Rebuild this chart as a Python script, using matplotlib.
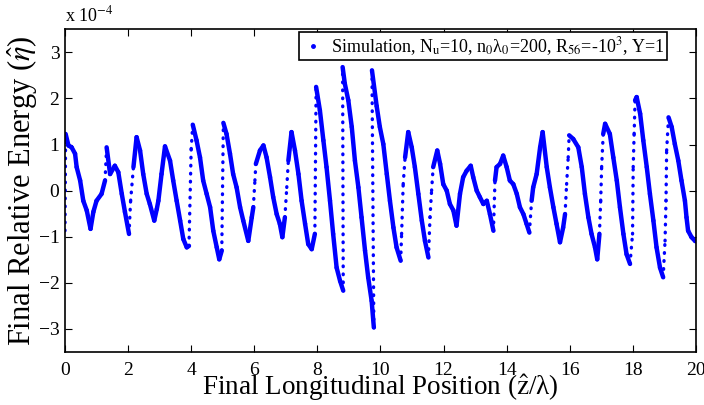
import matplotlib
matplotlib.use('Agg')
import matplotlib.pyplot as plt
from matplotlib.lines import Line2D
import numpy as np

plt.rcParams.update({
    'font.family': ['Liberation Serif', 'DejaVu Serif'],
    'mathtext.fontset': 'stix',
    'axes.linewidth': 1.2,
    'xtick.direction': 'in', 'ytick.direction': 'in',
    'xtick.top': True, 'ytick.right': True,
    'xtick.major.size': 5, 'ytick.major.size': 5,
    'xtick.major.pad': 7, 'ytick.major.pad': 4,
    'xtick.labelsize': 14, 'ytick.labelsize': 14,
})

# particle phase-space trace (energy in units of 1e-4)
z_pos = [0.00, 0.02, 0.11, 0.21, 0.32, 0.37, 0.48, 0.58, 0.69, 0.81, 0.90, 1.00, 1.16, 1.27, 1.32,
         1.43, 1.58, 1.69, 1.80, 1.90, 2.03, 2.08, 2.17, 2.27, 2.38, 2.48, 2.59, 2.69, 2.83, 2.91,
         2.96, 3.06, 3.17, 3.33, 3.43, 3.54, 3.65, 3.75, 3.86, 3.93, 4.00, 4.05, 4.17, 4.28, 4.38,
         4.49, 4.60, 4.70, 4.81, 4.89, 4.97, 5.02, 5.12, 5.23, 5.33, 5.44, 5.55, 5.65, 5.81, 5.92,
         5.97, 6.02, 6.05, 6.18, 6.29, 6.39, 6.50, 6.60, 6.71, 6.81, 6.89, 6.97, 7.03, 7.08, 7.18,
         7.29, 7.40, 7.50, 7.61, 7.71, 7.82, 7.92, 7.96, 8.08, 8.19, 8.29, 8.40, 8.50, 8.61, 8.72,
         8.82, 8.80, 8.87, 8.98, 9.09, 9.19, 9.30, 9.40, 9.51, 9.61, 9.72, 9.79, 9.73, 9.88, 9.98,
         10.09, 10.20, 10.30, 10.41, 10.51, 10.64, 10.67, 10.72, 10.78, 10.88, 10.99, 11.09, 11.20,
         11.31, 11.41, 11.52, 11.57, 11.62, 11.67, 11.80, 11.89, 11.99, 12.10, 12.20, 12.31, 12.41,
         12.52, 12.62, 12.73, 12.86, 12.94, 13.05, 13.15, 13.26, 13.37, 13.47, 13.58, 13.63, 13.68,
         13.79, 13.89, 14.00, 14.10, 14.21, 14.32, 14.42, 14.53, 14.63, 14.72, 14.79, 14.84, 14.95,
         15.06, 15.14, 15.27, 15.37, 15.48, 15.58, 15.69, 15.79, 15.85, 15.90, 15.95, 15.98, 16.11,
         16.27, 16.38, 16.48, 16.59, 16.69, 16.80, 16.87, 16.94, 16.98, 17.01, 17.06, 17.12, 17.27,
         17.38, 17.49, 17.59, 17.70, 17.80, 17.91, 17.99, 18.01, 18.04, 18.07, 18.12, 18.23, 18.33,
         18.44, 18.54, 18.65, 18.75, 18.86, 18.96, 19.02, 19.05, 19.07, 19.13, 19.23, 19.33, 19.44,
         19.54, 19.65, 19.70, 19.75, 19.86, 19.97, 20.00]
energy = [-0.87, 1.23, 0.98, 0.94, 0.80, 0.51, 0.22, -0.22, -0.43, -0.83, -0.46, -0.22, -0.07, 0.22, 0.94,
          0.36, 0.54, 0.40, -0.07, -0.46, -0.94, -0.22, 0.51, 1.16, 0.87, 0.36, -0.07, -0.29, -0.65, -0.40,
          -0.22, 0.36, 0.96, 0.65, 0.22, -0.22, -0.65, -1.05, -1.23, -1.20, 0.90, 1.43, 1.09, 0.72, 0.22,
          -0.07, -0.36, -0.87, -1.23, -1.49, -1.30, 1.47, 1.23, 0.80, 0.36, 0.07, -0.36, -0.65, -1.09, -0.58,
          -0.36, 0.22, 0.58, 0.87, 0.98, 0.72, 0.29, -0.14, -0.51, -0.72, -1.01, -0.58, 0.07, 0.65, 1.27,
          0.87, 0.36, -0.22, -0.72, -1.16, -1.27, -0.94, 2.25, 1.74, 1.09, 0.51, -0.22, -0.94, -1.67, -1.96,
          -2.17, 2.68, 2.32, 1.96, 1.38, 0.65, 0.07, -0.58, -1.30, -1.88, -2.39, -2.97, 2.61, 1.83, 1.38,
          1.01, 0.36, -0.22, -0.80, -1.23, -1.52, -0.94, 0.14, 0.72, 1.27, 0.94, 0.51, -0.07,
          -0.65, -1.09, -1.45, -0.58, 0.00, 0.51, 0.87, 0.58, 0.14, 0.00, -0.29, -0.43, -0.76,
          -0.07, 0.29, 0.43, 0.54, 0.29, 0.00, -0.14, -0.29, -0.22, -0.51, -0.87, 0.22, 0.51,
          0.58, 0.76, 0.51, 0.22, 0.14, -0.07, -0.36, -0.51, -0.72, -0.91, -0.22, 0.07, 0.36,
          0.94, 1.27, 0.51, 0.07, -0.36, -0.72, -1.12, -0.80, -0.51, 0.14, 0.72, 1.20, 1.12,
          0.94, 0.51, -0.07, -0.58, -0.94, -1.23, -1.49, -0.94, -0.22, 0.51, 1.23, 1.45, 1.23,
          0.72, 0.22, -0.36, -0.94, -1.38, -1.59, -0.94, 0.51, 1.23, 1.96, 2.03, 1.67, 1.09,
          0.51, -0.07, -0.65, -1.23, -1.67, -1.88, -1.09, -0.22, 0.87, 1.59, 1.38, 1.01, 0.65,
          0.22, -0.22, -0.58, -0.87, -1.01, -1.09, -1.10]

legend_label = (r'Simulation, N$_\mathrm{u}$=10, n$_0$λ$_0$=200, '
                r'R$_{56}$=-10$^3$, Y=1')
BLUE = '#0000FF'

fig = plt.figure(figsize=(7.04, 4.05), dpi=100)
ax = fig.add_axes([0.0923, 0.1309, 0.8963, 0.7968])

z = np.array(z_pos)
e = np.array(energy)
dz = np.diff(z)
de = np.diff(e)
# steep rises are sparse in the original -> dotted, the slow fall is dense -> solid
steep = (de > 0) & ((dz <= 0) | (de > 8 * np.abs(dz)))
for i in range(len(dz)):
    seg_z, seg_e = z[i:i + 2], e[i:i + 2]
    if steep[i]:
        ax.plot(seg_z, seg_e, color=BLUE, lw=2.4, linestyle=(0, (0.2, 2.2)),
                dash_capstyle='round')
    else:
        ax.plot(seg_z, seg_e, color=BLUE, lw=3.2, solid_capstyle='round',
                solid_joinstyle='round')

ax.set_xlim(0, 20)
ax.set_ylim(-3.5, 3.5)
ax.set_xticks(np.arange(0, 21, 2))
ax.set_yticks(np.arange(-3, 4, 1))
ax.set_xlabel(r'Final Longitudinal Position ($\hat{\mathrm{z}}$/λ)', fontsize=19.5, labelpad=-5)
ax.set_ylabel(r'Final Relative Energy ($\hat{\eta}$)', fontsize=22, labelpad=0)
ax.text(0.0, 1.012, r'x 10$^{-4}$', transform=ax.transAxes, fontsize=13,
        ha='left', va='bottom')

handle = Line2D([], [], color=BLUE, marker='.', linestyle='none', markersize=5)
leg = ax.legend([handle], [legend_label], loc='upper right', bbox_to_anchor=(0.954, 0.991),
                borderaxespad=0, fancybox=False, framealpha=1, edgecolor='black',
                fontsize=13, handlelength=1.2, handletextpad=0.4, borderpad=0.15)
leg.get_frame().set_linewidth(1.2)

fig.savefig('out.png', dpi=100)
